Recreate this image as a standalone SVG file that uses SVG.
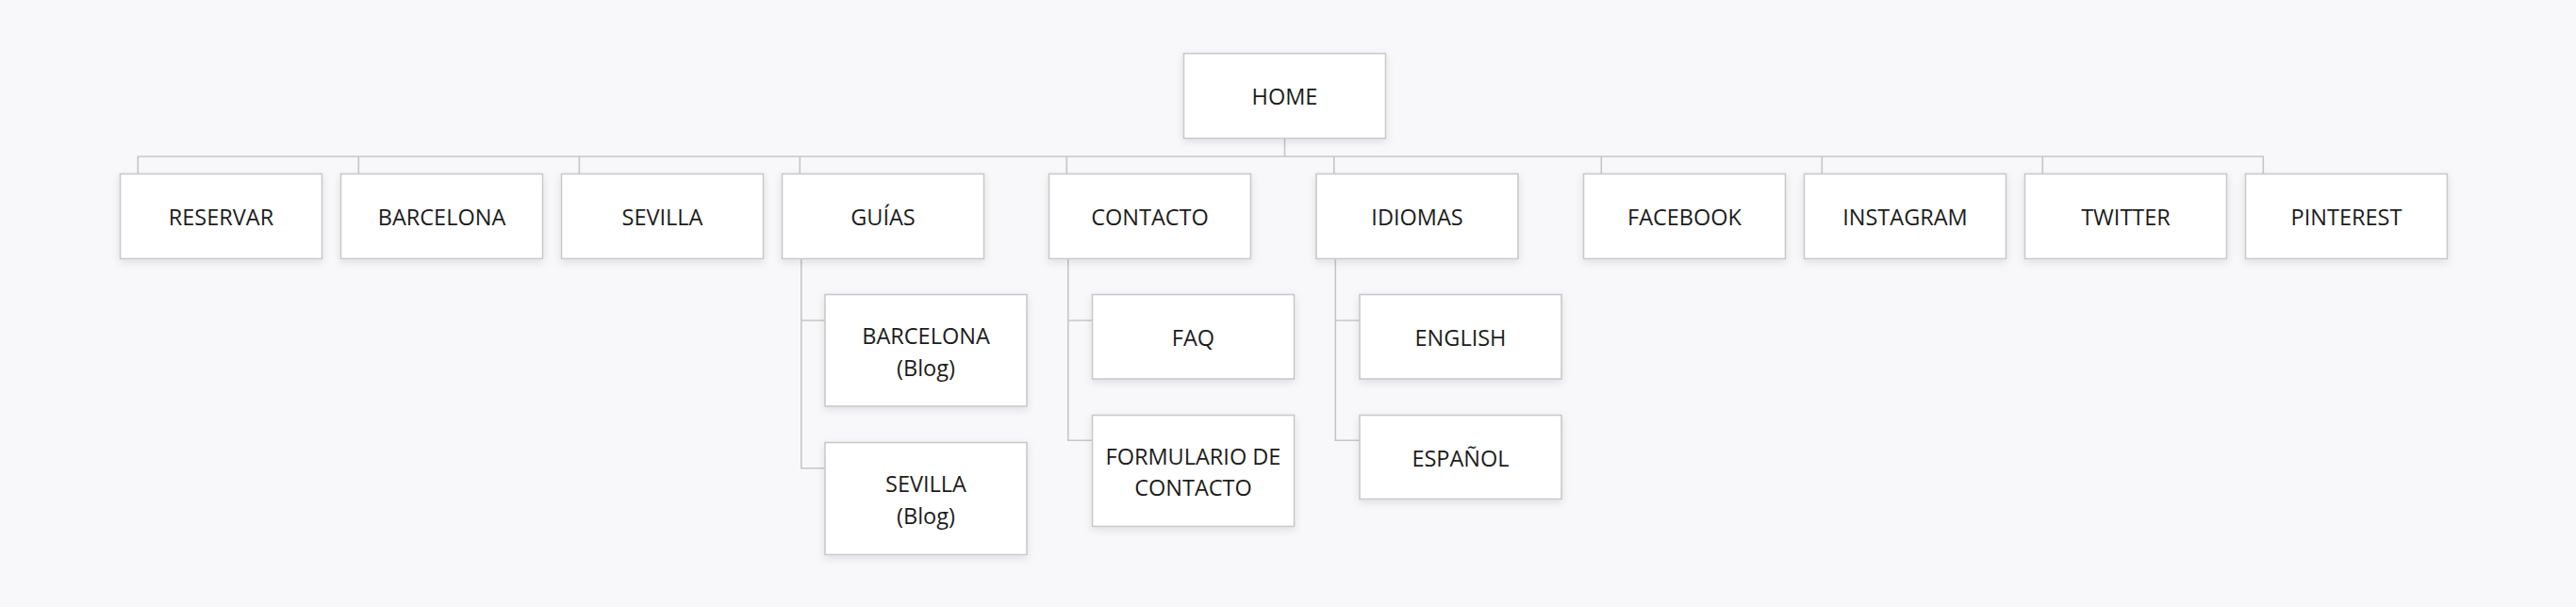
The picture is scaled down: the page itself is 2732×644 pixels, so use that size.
<svg xmlns="http://www.w3.org/2000/svg" width="2732" height="644" viewBox="0 0 2732 644">
  <defs>
    <filter id="sh" x="-10%" y="-20%" width="120%" height="150%">
      <feDropShadow dx="0" dy="3" stdDeviation="4" flood-color="#000" flood-opacity="0.10"/>
    </filter>
  </defs>
  <style>
    .box { fill: #ffffff; stroke: #c9c9c9; stroke-width: 1.6; filter: url(#sh); }
    .lbl { font-family: "Open Sans", "Noto Sans", "Liberation Sans", sans-serif; font-size: 23.5px; fill: #1c1c1c; text-anchor: middle; }
    .con { fill: none; stroke: #c6c6c8; stroke-width: 1.6; }
  </style>
  <rect x="0" y="0" width="2732" height="644" fill="#f8f8fa"/>

  <g id="connectors">
    <path class="con" d="M1362.5 146.5 V166"/>
    <path class="con" d="M146.3 184.5 V166 H2400.3 V184.5"/>
    <path class="con" d="M380.3 166 V184.5 M614.3 166 V184.5 M848.3 166 V184.5 M1131.3 166 V184.5 M1414.8 166 V184.5 M1698.3 166 V184.5 M1932.3 166 V184.5 M2166.3 166 V184.5"/>
    <path class="con" d="M849.8 274.5 V496.7 H875 M849.8 340 H875"/>
    <path class="con" d="M1132.8 274.5 V467.3 H1158.5 M1132.8 340 H1158.5"/>
    <path class="con" d="M1416.3 274.5 V467.3 H1442 M1416.3 340 H1442"/>
  </g>

  <g id="home">
    <rect class="box" x="1255.5" y="56.7" width="214" height="90"/>
    <text class="lbl" x="1362.5" y="111">HOME</text>
  </g>

  <g id="reservar">
    <rect class="box" x="127.5" y="184.5" width="214" height="90"/>
    <text class="lbl" x="234.5" y="239.3">RESERVAR</text>
  </g>
  <g id="barcelona">
    <rect class="box" x="361.5" y="184.5" width="214" height="90"/>
    <text class="lbl" x="468.5" y="239.3">BARCELONA</text>
  </g>
  <g id="sevilla">
    <rect class="box" x="595.5" y="184.5" width="214" height="90"/>
    <text class="lbl" x="702.5" y="239.3">SEVILLA</text>
  </g>
  <g id="guias">
    <rect class="box" x="829.5" y="184.5" width="214" height="90"/>
    <text class="lbl" x="936.5" y="239.3">GUÍAS</text>
  </g>
  <g id="contacto">
    <rect class="box" x="1112.5" y="184.5" width="214" height="90"/>
    <text class="lbl" x="1219.5" y="239.3">CONTACTO</text>
  </g>
  <g id="idiomas">
    <rect class="box" x="1396" y="184.5" width="214" height="90"/>
    <text class="lbl" x="1503" y="239.3">IDIOMAS</text>
  </g>
  <g id="facebook">
    <rect class="box" x="1679.5" y="184.5" width="214" height="90"/>
    <text class="lbl" x="1786.5" y="239.3">FACEBOOK</text>
  </g>
  <g id="instagram">
    <rect class="box" x="1913.5" y="184.5" width="214" height="90"/>
    <text class="lbl" x="2020.5" y="239.3">INSTAGRAM</text>
  </g>
  <g id="twitter">
    <rect class="box" x="2147.5" y="184.5" width="214" height="90"/>
    <text class="lbl" x="2254.5" y="239.3">TWITTER</text>
  </g>
  <g id="pinterest">
    <rect class="box" x="2381.5" y="184.5" width="214" height="90"/>
    <text class="lbl" x="2488.5" y="239.3">PINTEREST</text>
  </g>

  <g id="barcelona-blog">
    <rect class="box" x="875" y="312.5" width="214" height="118.5"/>
    <text class="lbl" x="982" y="365">BARCELONA</text>
    <text class="lbl" x="982" y="398.5">(Blog)</text>
  </g>
  <g id="sevilla-blog">
    <rect class="box" x="875" y="469.5" width="214" height="119"/>
    <text class="lbl" x="982" y="522.3">SEVILLA</text>
    <text class="lbl" x="982" y="555.5">(Blog)</text>
  </g>
  <g id="faq">
    <rect class="box" x="1158.5" y="312.5" width="214" height="89.5"/>
    <text class="lbl" x="1265.5" y="367">FAQ</text>
  </g>
  <g id="formulario">
    <rect class="box" x="1158.5" y="440.5" width="214" height="118"/>
    <text class="lbl" x="1265.5" y="493.3">FORMULARIO DE</text>
    <text class="lbl" x="1265.5" y="525.7">CONTACTO</text>
  </g>
  <g id="english">
    <rect class="box" x="1442" y="312.5" width="214" height="89.5"/>
    <text class="lbl" x="1549" y="367">ENGLISH</text>
  </g>
  <g id="espanol">
    <rect class="box" x="1442" y="440.5" width="214" height="89"/>
    <text class="lbl" x="1549" y="495">ESPAÑOL</text>
  </g>
</svg>
